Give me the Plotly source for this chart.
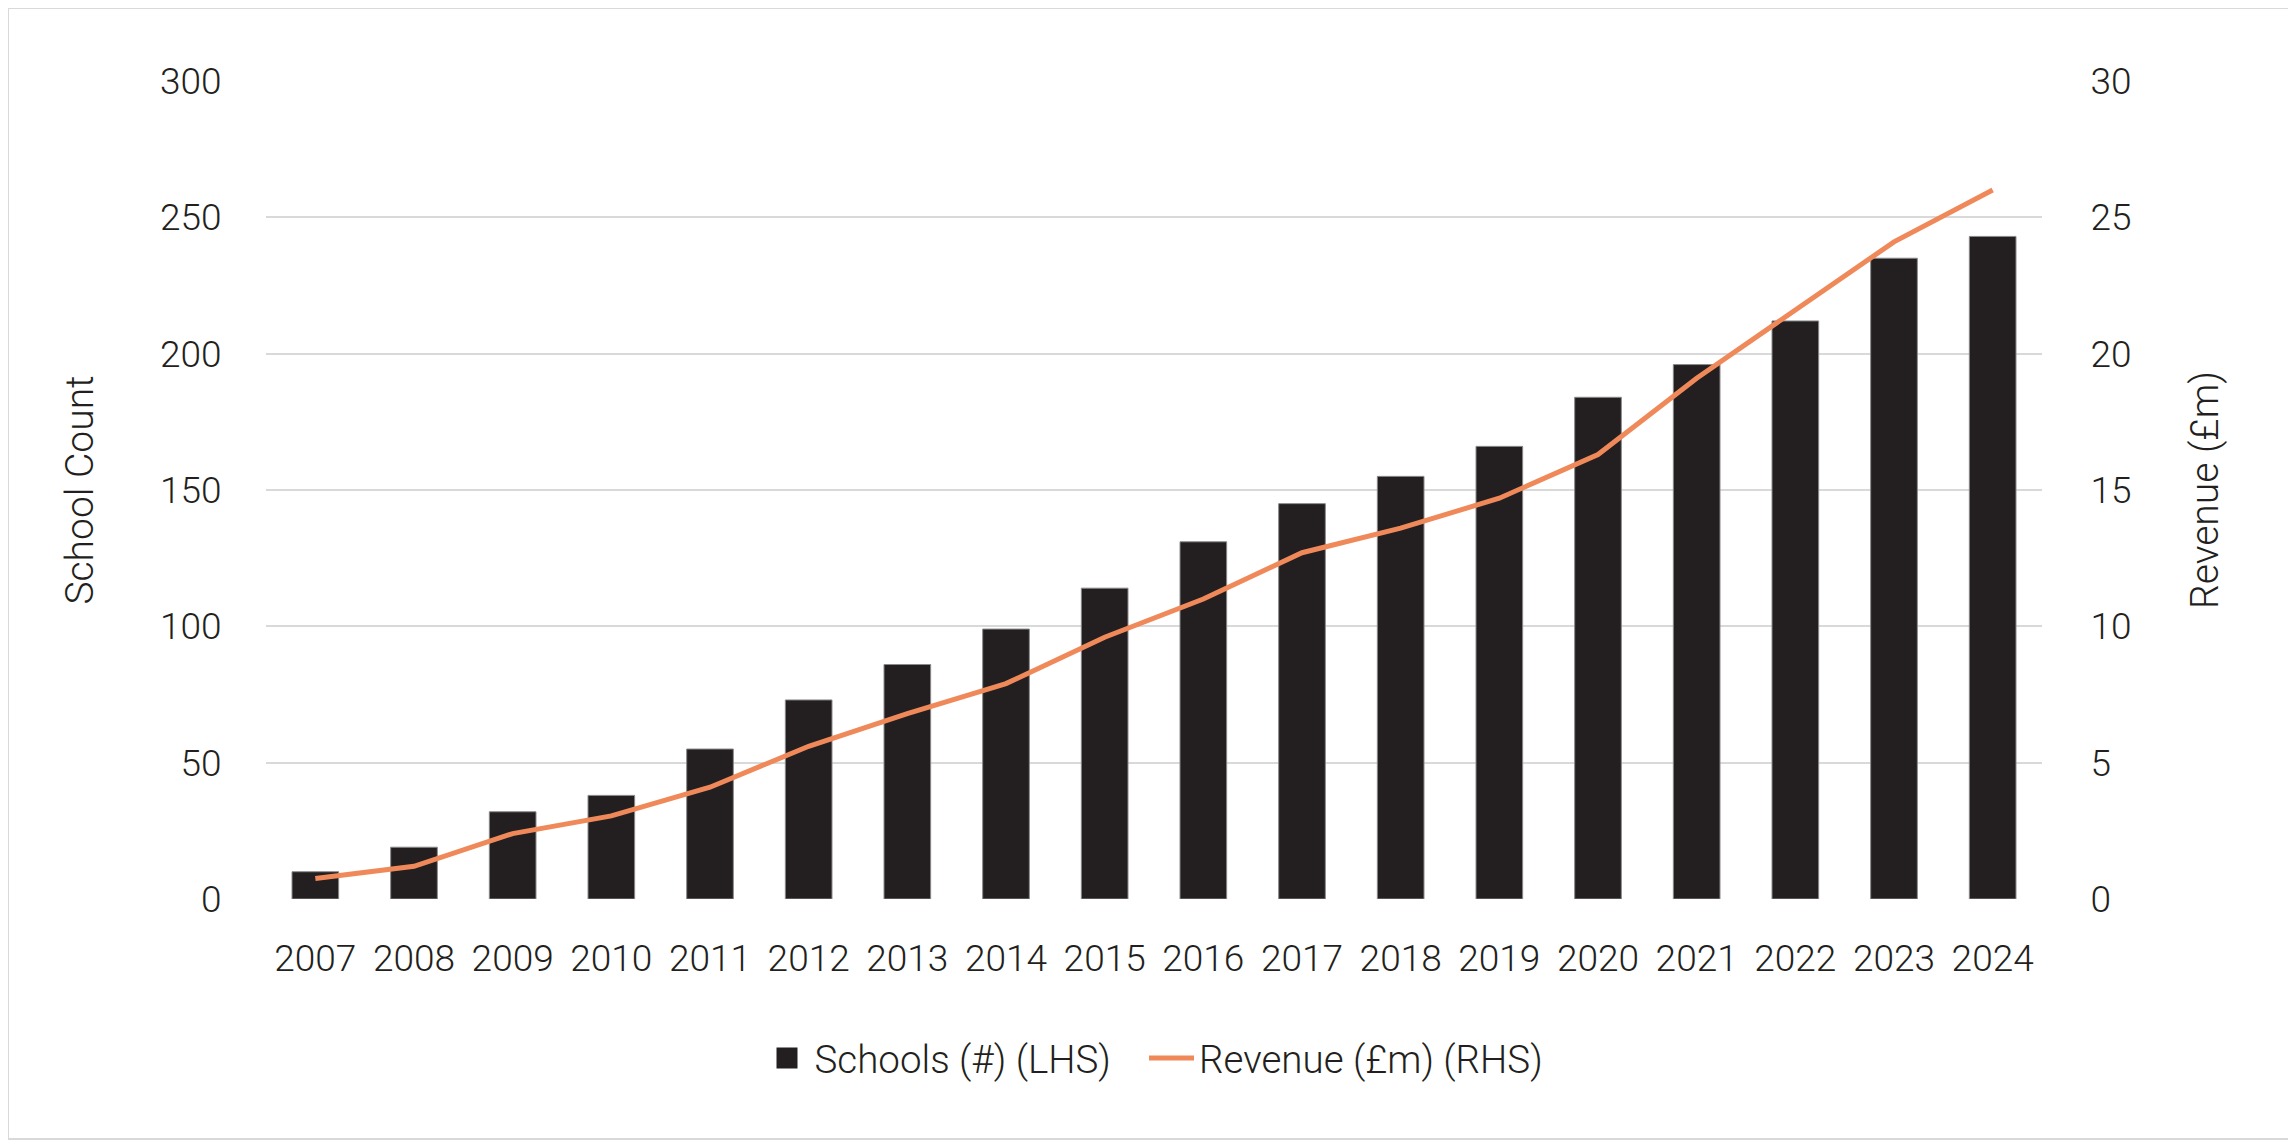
import plotly.graph_objects as go

years = [str(y) for y in range(2007, 2025)]
schools = [10, 19, 32, 38, 55, 73, 86, 99, 114, 131, 145, 155, 166, 184, 196, 212, 235, 243]
revenue = [0.75, 1.2, 2.4, 3.05, 4.1, 5.6, 6.8, 7.9, 9.6, 11.0, 12.7, 13.6, 14.7, 16.3, 19.1, 21.6, 24.1, 26.0]

# page body keeps an 8px margin, so the figure is 8px smaller than the window
W, H = 2288, 1138
ML, MR, MT, MB = 258, 254, 73, 247
INK = "#231f20"
FONT = dict(family="Roboto", size=37, color=INK, weight=300)
TITLE_FONT = dict(family="Roboto", size=39, color=INK, weight=300)
LEGEND_FONT = dict(family="Roboto", size=38.5, color=INK, weight=300)

fig = go.Figure()
fig.add_trace(go.Bar(
    x=years, y=schools, name="Schools (#) (LHS)", showlegend=False,
    marker=dict(color=INK, line=dict(color="#8a8a8a", width=1)),
))
# legend entry for the bars with a larger square swatch (nbsp pads the gap to the next item)
fig.add_trace(go.Scatter(
    x=[None], y=[None], name="Schools (#) (LHS)\u00a0\u00a0\u00a0", mode="markers",
    marker=dict(symbol="square", size=16, color=INK, line=dict(color=INK, width=5)),
))
fig.add_trace(go.Scatter(
    x=years, y=revenue, name="Revenue (£m) (RHS)", yaxis="y2",
    mode="lines", line=dict(color="#f0895a", width=5),
))

pw = W - ML - MR
ph = H - MT - MB
# light frame round the whole picture
fig.add_shape(type="rect", xref="paper", yref="paper",
              x0=(0 - ML) / pw, x1=(2281 - ML) / pw,
              y0=(H - MB - 1131) / ph, y1=(H - MB - 0) / ph,
              line=dict(color="#d9d9d9", width=2), fillcolor="rgba(0,0,0,0)", layer="below")

fig.update_layout(
    width=W, height=H,
    margin=dict(l=ML, r=MR, t=MT, b=MB),
    paper_bgcolor="white", plot_bgcolor="white",
    font=FONT,
    bargap=0.527,
    showlegend=True,
    legend=dict(orientation="h", x=0.5, xanchor="center", y=-0.195, yanchor="middle",
                font=LEGEND_FONT, itemwidth=45, tracegroupgap=0),
    xaxis=dict(type="category", showgrid=False, showline=False, zeroline=False,
               ticks="outside", ticklen=27, tickcolor="rgba(0,0,0,0)", tickfont=FONT),
    yaxis=dict(range=[0, 300], dtick=50, showgrid=True, gridcolor="#d9d9d9", gridwidth=2,
               zeroline=False, showline=False, ticks="outside", ticklen=36,
               tickcolor="rgba(0,0,0,0)", tickfont=FONT,
               title=dict(text="School Count", font=TITLE_FONT, standoff=54)),
    yaxis2=dict(range=[0, 30], dtick=5, overlaying="y", side="right", showgrid=False,
                zeroline=False, showline=False, ticks="outside", ticklen=40,
                tickcolor="rgba(0,0,0,0)", tickfont=FONT,
                title=dict(text="Revenue (£m)", font=TITLE_FONT, standoff=60)),
)

fig.write_html("out.html")
